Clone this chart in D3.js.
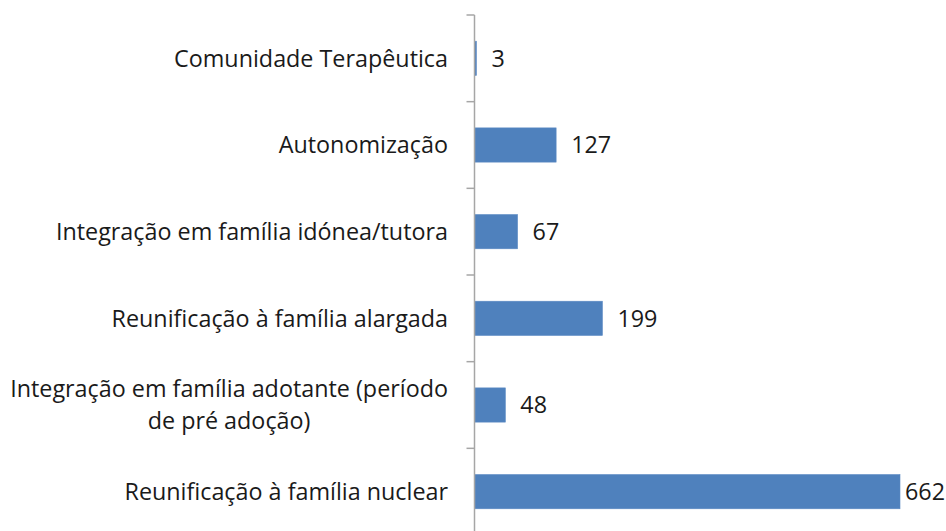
<!DOCTYPE html>
<html>
<head>
<meta charset="utf-8">
<script src="https://cdn.jsdelivr.net/npm/d3@7/dist/d3.min.js"></script>
<style>
  html, body { margin: 0; padding: 0; background: #ffffff; }
  svg { display: block; }
  text { font-family: "Open Sans", Lato, "DejaVu Sans", sans-serif; fill: #1a1a1a; }
</style>
</head>
<body>
<svg id="chart" width="946" height="531"></svg>
<script>
// Destinos após acolhimento (contagem por categoria)
const categories = [
  "Comunidade Terapêutica",
  "Autonomização",
  "Integração em família idónea/tutora",
  "Reunificação à família alargada",
  "Integração em família adotante (período de pré adoção)",
  "Reunificação à família nuclear"
];
// Linhas em que cada rótulo é partido
const labelLines = [
  ["Comunidade Terapêutica"],
  ["Autonomização"],
  ["Integração em família idónea/tutora"],
  ["Reunificação à família alargada"],
  ["Integração em família adotante (período", "de pré adoção)"],
  ["Reunificação à família nuclear"]
];
const values = [3, 127, 67, 199, 48, 662];

const W = 946, H = 531;
const axisX = 474.5;
const svg = d3.select("#chart");

const x = d3.scaleLinear().domain([0, 662]).range([axisX, 900]);
const y = d3.scaleBand()
  .domain(categories)
  .range([15, 535])
  .paddingInner(0.605)
  .paddingOuter(0.3025);

const labelRight = 448;
const labelLeft = 10;

// Size the text so the widest label line spans the label column
const probe = svg.append("text").attr("font-size", 20)
  .text(d3.greatest(labelLines.flat(), s => s.length));
const probeW = probe.node().getComputedTextLength();
probe.remove();
const fontSize = 20 * (labelRight - labelLeft) / probeW;

// Bars
svg.append("g").selectAll("rect")
  .data(values)
  .join("rect")
  .attr("x", x(0))
  .attr("y", (d, i) => y(categories[i]))
  .attr("width", d => Math.max(0, x(d) - x(0)))
  .attr("height", y.bandwidth())
  .attr("fill", "#4f81bd")
  .attr("stroke", "#5b8ac4")
  .attr("stroke-width", 0.6);

// Category axis: vertical line with ticks on band boundaries
const axisG = svg.append("g");
const step = y.step();
const y0 = y.range()[0];
axisG.append("line")
  .attr("x1", axisX).attr("x2", axisX)
  .attr("y1", y0).attr("y2", H + 2)
  .attr("stroke", "#a6a6a6").attr("stroke-width", 1.5);
axisG.selectAll("line.tick")
  .data(d3.range(categories.length + 1))
  .join("line")
  .attr("class", "tick")
  .attr("x1", axisX - 8).attr("x2", axisX)
  .attr("y1", i => y0 + i * step).attr("y2", i => y0 + i * step)
  .attr("stroke", "#a6a6a6").attr("stroke-width", 1.5);

// Category labels (multi-line labels are centred within their block)
const lineGap = 32;
categories.forEach((c, i) => {
  const lines = labelLines[i];
  const cy = y(c) + y.bandwidth() / 2;
  const g = svg.append("g");
  const texts = lines.map((ln, j) => g.append("text")
    .attr("y", cy + (j - (lines.length - 1) / 2) * lineGap)
    .attr("dy", "0.36em")
    .attr("font-size", fontSize)
    .text(ln));
  const widths = texts.map(t => t.node().getComputedTextLength());
  const maxW = d3.max(widths);
  const centre = labelRight - maxW / 2;
  texts.forEach(t => t.attr("x", centre).attr("text-anchor", "middle"));
});

// Value labels
svg.append("g").selectAll("text")
  .data(values)
  .join("text")
  .attr("y", (d, i) => y(categories[i]) + y.bandwidth() / 2)
  .attr("dy", "0.36em")
  .attr("font-size", fontSize)
  .text(d => d)
  .each(function(d) {
    const w = this.getComputedTextLength();
    const px = Math.min(x(d) + 15, W - 1 - w);
    d3.select(this).attr("x", Math.max(x(d) + 3, px));
  });
</script>
</body>
</html>
